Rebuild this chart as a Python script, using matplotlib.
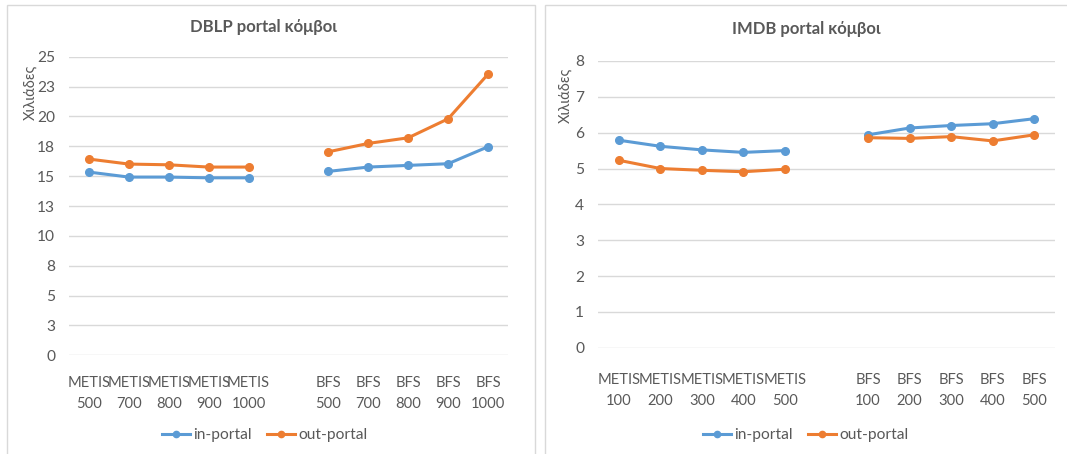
import matplotlib
matplotlib.use("Agg")
import matplotlib.pyplot as plt
from matplotlib.lines import Line2D
from matplotlib.patches import Rectangle

plt.rcParams['font.family'] = ['Lato', 'DejaVu Sans']

# ---- data ----
dblp_categories = ["METIS\n500", "METIS\n700", "METIS\n800", "METIS\n900", "METIS\n1000", "",
                   "BFS\n500", "BFS\n700", "BFS\n800", "BFS\n900", "BFS\n1000"]
dblp_in = [15.34, 14.92, 14.92, 14.86, 14.86, None, 15.40, 15.76, 15.90, 16.04, 17.46]
dblp_out = [16.43, 16.01, 15.95, 15.76, 15.76, None, 17.04, 17.74, 18.21, 19.80, 23.54]
dblp_yticks = [0, 2.5, 5, 7.5, 10, 12.5, 15, 17.5, 20, 22.5, 25]
dblp_yticklabels = ["0", "3", "5", "8", "10", "13", "15", "18", "20", "23", "25"]

imdb_categories = ["METIS\n100", "METIS\n200", "METIS\n300", "METIS\n400", "METIS\n500", "",
                   "BFS\n100", "BFS\n200", "BFS\n300", "BFS\n400", "BFS\n500"]
imdb_in = [5.79, 5.62, 5.52, 5.45, 5.50, None, 5.94, 6.13, 6.20, 6.25, 6.39]
imdb_out = [5.23, 5.00, 4.95, 4.91, 4.98, None, 5.86, 5.84, 5.89, 5.77, 5.94]
imdb_yticks = [0, 1, 2, 3, 4, 5, 6, 7, 8]
imdb_yticklabels = ["0", "1", "2", "3", "4", "5", "6", "7", "8"]

series_names = ["in-portal", "out-portal"]
ylabel = "Χιλιάδες"

BLUE = "#5B9BD5"
ORANGE = "#ED7D31"
TXT = "#595959"
GRID = "#D9D9D9"

W, H = 1067, 454
fig = plt.figure(figsize=(W / 100, H / 100), dpi=100)

# panel borders
fig.patches.append(Rectangle((7 / W, -0.01), (535 - 7) / W, 1 - 5 / H + 0.01,
                             transform=fig.transFigure, fill=False, edgecolor=GRID, lw=1))
fig.patches.append(Rectangle((545 / W, -0.01), (1075 - 545) / W, 1 - 5 / H + 0.01,
                             transform=fig.transFigure, fill=False, edgecolor=GRID, lw=1))


def make_panel(rect, cats, s_in, s_out, yticks, yticklabels, ymax, title, title_xy,
               ylabel_xy, legend_xy, xpad):
    ax = fig.add_axes(rect)
    x = list(range(len(cats)))
    for vals, col in ((s_in, BLUE), (s_out, ORANGE)):
        for seg in ((0, 5), (6, 11)):
            xs = x[seg[0]:seg[1]]
            ys = vals[seg[0]:seg[1]]
            ax.plot(xs, ys, color=col, lw=2.2, marker='o', ms=5.5, zorder=3,
                    solid_capstyle='round')
    ax.set_xlim(-0.5, len(cats) - 0.5)
    ax.set_ylim(0, ymax)
    ax.set_yticks(yticks)
    ax.set_yticklabels(yticklabels)
    ax.set_xticks(x)
    ax.set_xticklabels(cats, linespacing=1.65)
    ax.tick_params(axis='y', length=0, colors=TXT, labelsize=11.2, pad=10)
    ax.tick_params(axis='x', length=0, colors=TXT, labelsize=10.6, pad=xpad)
    for s in ax.spines.values():
        s.set_visible(False)
    ax.grid(axis='y', color=GRID, lw=1)
    ax.set_axisbelow(True)
    fig.text(title_xy[0] / W, 1 - title_xy[1] / H, title, ha='center', va='center',
             fontsize=12, fontweight='bold', color=TXT)
    fig.text(ylabel_xy[0] / W, 1 - ylabel_xy[1] / H, ylabel, ha='center', va='center',
             rotation=90, fontsize=10.5, color=TXT)
    handles = [Line2D([0], [0], color=BLUE, lw=2.2, marker='o', ms=4.5),
               Line2D([0], [0], color=ORANGE, lw=2.2, marker='o', ms=4.5)]
    fig.legend(handles, series_names, loc='center', ncol=2,
               bbox_to_anchor=(legend_xy[0] / W, 1 - legend_xy[1] / H),
               frameon=False, fontsize=11.2, labelcolor=TXT, handlelength=1.8,
               handletextpad=0.2, columnspacing=1.0)
    return ax


make_panel([69 / W, 1 - 355.3 / H, (508 - 69) / W, (355.3 - 56.7) / H],
           dblp_categories, dblp_in, dblp_out, dblp_yticks, dblp_yticklabels, 25,
           "DBLP portal κόμβοι", (263, 27), (30, 92), (265, 435), 15)

make_panel([598 / W, 1 - 347.7 / H, (1055 - 598) / W, (347.7 - 61) / H],
           imdb_categories, imdb_in, imdb_out, imdb_yticks, imdb_yticklabels, 8,
           "IMDB portal κόμβοι", (806, 29), (565, 95), (806, 435), 18)

fig.savefig("out.png", dpi=100)
